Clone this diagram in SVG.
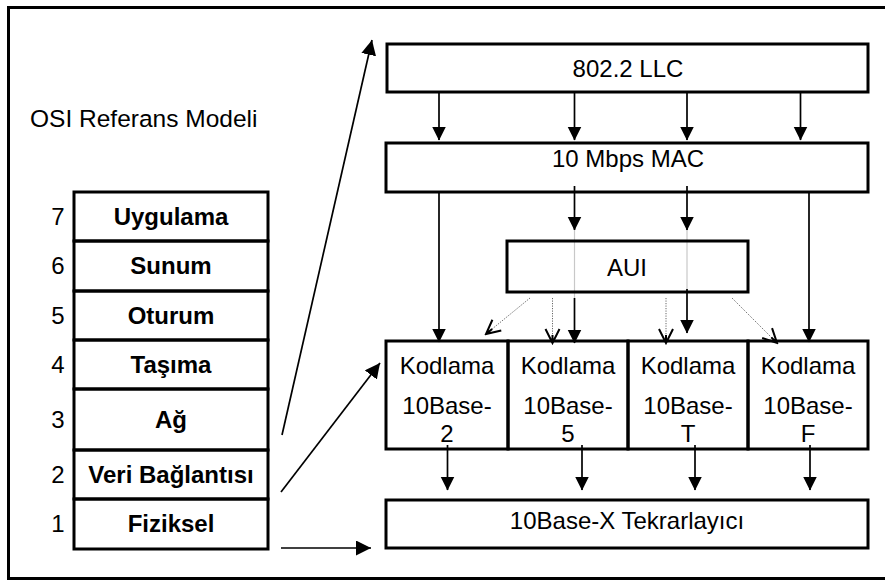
<svg xmlns="http://www.w3.org/2000/svg" width="885" height="580" viewBox="0 0 885 580">
<style>
.box{fill:none;stroke:#000;stroke-width:3}
.t{font-family:"Liberation Sans",Arial,sans-serif;font-size:24px;fill:#000;text-anchor:middle}
.b{font-weight:bold}
.ln{stroke:#000;stroke-width:1.7;fill:none}
.dot{stroke:#666;stroke-width:1;stroke-dasharray:1.2 1.3;fill:none}
.gray{stroke:#c8c8c8;stroke-width:1.2;fill:none}
</style>
<defs>
<marker id="ah" markerUnits="userSpaceOnUse" markerWidth="15" markerHeight="15" refX="13.5" refY="7" orient="auto">
<path d="M0,0 L14,7 L0,14 z" fill="#000"/>
</marker>
<marker id="ahL" markerUnits="userSpaceOnUse" markerWidth="16" markerHeight="16" refX="15" refY="7.5" orient="auto">
<path d="M0,0 L15,7.5 L0,15 z" fill="#000"/>
</marker>
<marker id="ao" markerUnits="userSpaceOnUse" markerWidth="17" markerHeight="17" refX="15" refY="8" orient="auto">
<path d="M1,1 L15,8 L1,15 M15,8 L7,8" fill="none" stroke="#000" stroke-width="2"/>
</marker>
</defs>
<rect x="8.5" y="7.5" width="880" height="571" fill="#fff" stroke="#000" stroke-width="3"/>
<text class="t" x="30" y="127" style="text-anchor:start;font-size:24.5px">OSI Referans Modeli</text>
<g id="osi">
<g id="l7"><rect class="box" x="74" y="192" width="194" height="49"/><text class="t" x="58" y="225">7</text><text class="t b" x="171" y="225">Uygulama</text></g>
<g id="l6"><rect class="box" x="74" y="241" width="194" height="50"/><text class="t" x="58" y="274">6</text><text class="t b" x="171" y="274">Sunum</text></g>
<g id="l5"><rect class="box" x="74" y="291" width="194" height="49"/><text class="t" x="58" y="324">5</text><text class="t b" x="171" y="324">Oturum</text></g>
<g id="l4"><rect class="box" x="74" y="340" width="194" height="49"/><text class="t" x="58" y="373">4</text><text class="t b" x="171" y="373">Taşıma</text></g>
<g id="l3"><rect class="box" x="74" y="389" width="194" height="61"/><text class="t" x="58" y="428">3</text><text class="t b" x="171" y="428">Ağ</text></g>
<g id="l2"><rect class="box" x="74" y="450" width="194" height="49"/><text class="t" x="58" y="483">2</text><text class="t b" x="171" y="483">Veri Bağlantısı</text></g>
<g id="l1"><rect class="box" x="74" y="499" width="194" height="50"/><text class="t" x="58" y="532">1</text><text class="t b" x="171" y="532">Fiziksel</text></g>
</g>
<g id="connectors">
<line class="ln" x1="282" y1="435" x2="372" y2="40" marker-end="url(#ahL)"/>
<line class="ln" x1="281" y1="492" x2="380" y2="363" marker-end="url(#ahL)"/>
<line class="ln" x1="281" y1="548" x2="371" y2="548" marker-end="url(#ahL)"/>
<line class="ln" x1="439" y1="92" x2="439" y2="140" marker-end="url(#ah)"/>
<line class="ln" x1="574.5" y1="92" x2="574.5" y2="140" marker-end="url(#ah)"/>
<line class="ln" x1="687" y1="92" x2="687" y2="140" marker-end="url(#ah)"/>
<line class="ln" x1="800.5" y1="92" x2="800.5" y2="140" marker-end="url(#ah)"/>
<line class="ln" x1="439" y1="192" x2="439" y2="342" marker-end="url(#ah)"/>
<line class="ln" x1="809" y1="192" x2="809" y2="342" marker-end="url(#ah)"/>
<line class="ln" x1="574.5" y1="186" x2="574.5" y2="230" marker-end="url(#ah)"/>
<line class="ln" x1="687" y1="186" x2="687" y2="230" marker-end="url(#ah)"/>
<line class="gray" x1="574.5" y1="230" x2="574.5" y2="298"/>
<line class="gray" x1="687" y1="230" x2="687" y2="290"/>
<line class="ln" x1="574.5" y1="298" x2="574.5" y2="343" marker-end="url(#ah)"/>
<line class="ln" x1="687" y1="289" x2="687" y2="333" marker-end="url(#ah)"/>
<line class="dot" x1="530" y1="298" x2="486" y2="334" marker-end="url(#ao)"/>
<line class="dot" x1="552.5" y1="298" x2="552.5" y2="343" marker-end="url(#ao)"/>
<line class="dot" x1="666" y1="298" x2="666" y2="343" marker-end="url(#ao)"/>
<line class="dot" x1="732" y1="298" x2="777" y2="343" marker-end="url(#ao)"/>
<line class="ln" x1="447.5" y1="445" x2="447.5" y2="490" marker-end="url(#ah)"/>
<line class="ln" x1="582" y1="445" x2="582" y2="490" marker-end="url(#ah)"/>
<line class="ln" x1="695" y1="445" x2="695" y2="490" marker-end="url(#ah)"/>
<line class="ln" x1="810" y1="445" x2="810" y2="490" marker-end="url(#ah)"/>
</g>
<g id="llc"><rect class="box" x="387" y="44" width="481" height="48"/><text class="t" x="628" y="77">802.2 LLC</text></g>
<g id="mac"><rect class="box" x="386" y="143" width="482" height="49"/><text class="t" x="628" y="167">10 Mbps MAC</text></g>
<g id="aui"><rect class="box" x="507" y="241" width="241" height="51"/><text class="t" x="627" y="276">AUI</text></g>
<g id="k2"><rect class="box" x="386" y="341" width="122" height="108"/><text class="t" x="447" y="374">Kodlama</text><text class="t" x="447" y="414">10Base-</text><text class="t" x="447" y="442">2</text></g>
<g id="k5"><rect class="box" x="508" y="341" width="120" height="108"/><text class="t" x="568" y="374">Kodlama</text><text class="t" x="568" y="414">10Base-</text><text class="t" x="568" y="442">5</text></g>
<g id="kT"><rect class="box" x="628" y="341" width="120" height="108"/><text class="t" x="688" y="374">Kodlama</text><text class="t" x="688" y="414">10Base-</text><text class="t" x="688" y="442">T</text></g>
<g id="kF"><rect class="box" x="748" y="341" width="120" height="108"/><text class="t" x="808" y="374">Kodlama</text><text class="t" x="808" y="414">10Base-</text><text class="t" x="808" y="442">F</text></g>
<g id="rep"><rect class="box" x="386" y="500" width="482" height="48"/><text class="t" x="627" y="529">10Base-X Tekrarlayıcı</text></g>
</svg>
